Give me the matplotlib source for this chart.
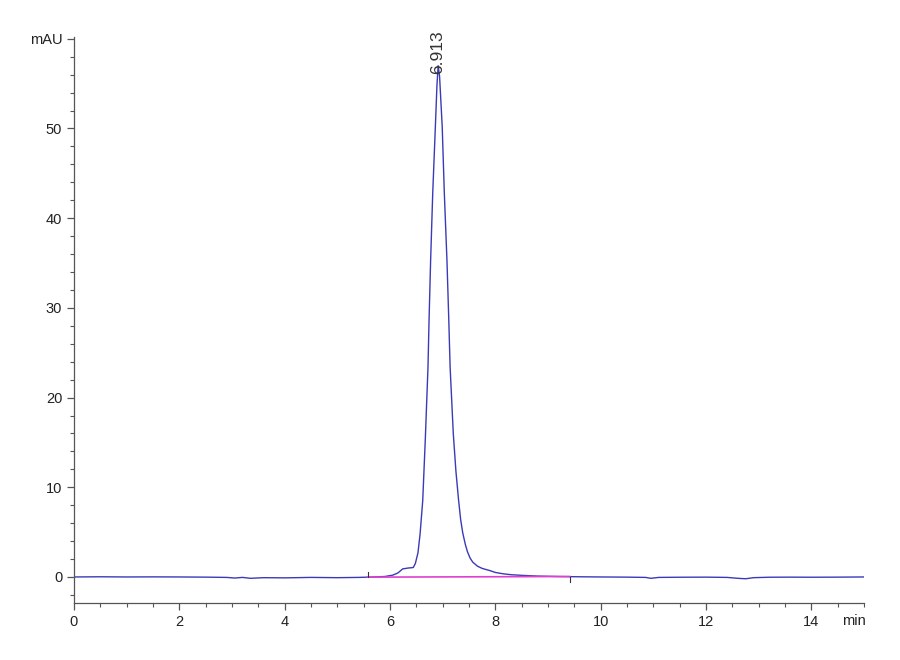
import matplotlib.pyplot as plt
from matplotlib.ticker import MultipleLocator

plt.rcParams['font.family'] = ['Liberation Sans', 'DejaVu Sans']

# chromatogram trace (min, mAU)
time = [0.0, 0.5, 1.0, 1.5, 2.0, 2.5, 2.9, 3.05, 3.2, 3.35, 3.6, 4.0, 4.5,
        5.0, 5.4, 5.7, 5.9, 6.05, 6.15, 6.24, 6.35, 6.44, 6.48, 6.53, 6.57,
        6.62, 6.67, 6.72, 6.74, 6.77, 6.81, 6.86, 6.89, 6.913, 6.94, 6.99,
        7.03, 7.08, 7.115, 7.14, 7.2, 7.25, 7.3, 7.34, 7.38, 7.43, 7.47, 7.52,
        7.57, 7.66, 7.75, 7.9, 8.0, 8.15, 8.3, 8.5, 8.8, 9.2, 9.6, 10.0, 10.5,
        10.85, 10.95, 11.1, 11.5, 12.0, 12.4, 12.6, 12.75, 12.9, 13.2, 13.6,
        14.0, 14.5, 15.0]
signal = [0.0, 0.02, 0.0, 0.01, 0.0, -0.02, -0.05, -0.12, -0.05, -0.15, -0.08,
          -0.1, -0.05, -0.08, -0.05, 0.0, 0.05, 0.2, 0.45, 0.9, 1.0, 1.05,
          1.5, 2.7, 4.8, 8.5, 15.5, 23.4, 28.6, 35.3, 42.8, 50.2, 54.8, 57.0,
          55.8, 50.2, 42.8, 35.3, 28.6, 23.4, 16.0, 11.8, 8.6, 6.4, 4.9, 3.6,
          2.8, 2.1, 1.65, 1.2, 0.95, 0.7, 0.5, 0.35, 0.25, 0.18, 0.1, 0.05,
          0.02, 0.0, -0.02, -0.05, -0.15, -0.05, -0.03, -0.02, -0.05, -0.15,
          -0.2, -0.08, -0.03, -0.02, -0.03, -0.02, 0.0]

# integration baseline
base_t = [5.58, 9.41]
base_v = [-0.02, 0.05]

peak_rt = 6.913
peak_h = 57.0

fig = plt.figure(figsize=(9, 6.6), dpi=100)
ax = fig.add_axes([0.0822, 0.0864, 0.878, 0.8576])

ax.plot(time, signal, color='#3a3ab8', lw=1.0)
ax.plot(base_t, base_v, color='#e040d0', lw=1.2)
# start / end marks of the integration
ax.plot([base_t[0], base_t[0]], [base_v[0], base_v[0] + 0.6], color='#333333', lw=0.8)
ax.plot([base_t[1], base_t[1]], [base_v[1], base_v[1] - 0.6], color='#333333', lw=0.8)

ax.text(peak_rt - 0.01, peak_h - 0.9, f"{peak_rt:.3f}", rotation=90, ha='center',
        va='bottom', fontsize=12.5, color='#333333')

ax.set_xlim(0, 15)
ax.set_ylim(-2.9, 60.2)
for s in ['top', 'right']:
    ax.spines[s].set_visible(False)
for s in ['left', 'bottom']:
    ax.spines[s].set_color('#555555')
    ax.spines[s].set_linewidth(0.9)

ax.set_xticks(range(0, 15, 2))
ax.xaxis.set_minor_locator(MultipleLocator(0.5))
ax.set_yticks(range(0, 61, 10))
ax.set_yticklabels(['0', '10', '20', '30', '40', '50', 'mAU'])
ax.yaxis.set_minor_locator(MultipleLocator(2))
ax.tick_params(which='major', length=5, width=0.9, color='#555555',
               labelsize=10.5, labelcolor='#222222')
ax.tick_params(which='minor', length=3, width=0.8, color='#555555')

ax.text(14.8, -4.9, 'min', ha='center', va='center', fontsize=10.5, color='#222222',
        transform=ax.transData, clip_on=False)

fig.savefig('out.png', dpi=100)
